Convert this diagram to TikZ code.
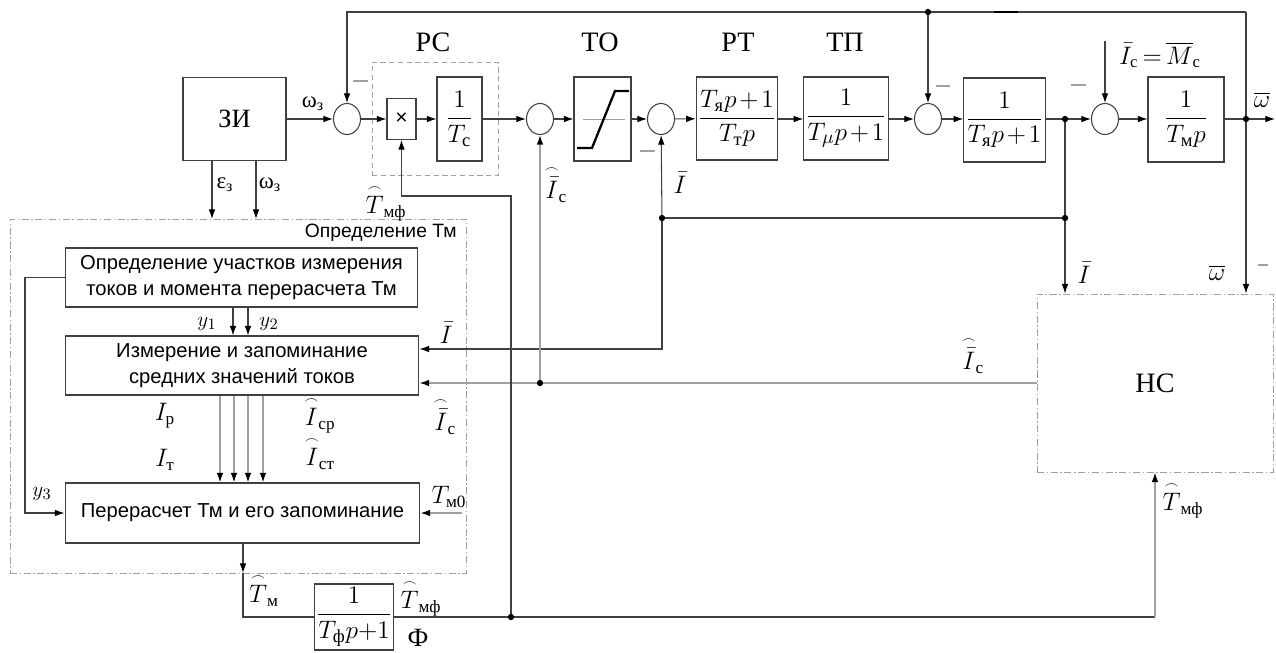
\documentclass[tikz,border=0pt]{standalone}
\usepackage{amsmath}
\usepackage{fontspec}
\setmainfont{Liberation Serif}
\newfontfamily\arial{Liberation Sans}
\usetikzlibrary{arrows.meta,shapes.geometric}
\newcommand\harc[1]{\overset{\scriptscriptstyle\frown}{#1}}
\newcommand\myfr[2]{\medmuskip=2mu\relax\dfrac{#1}{#2}}
\definecolor{lc}{HTML}{404040}
\definecolor{gc}{HTML}{A0A0A0}
\tikzset{
  ln/.style={draw=lc, line width=0.6pt},
  arr/.style={draw=lc, line width=0.6pt, -{Latex[length=5.5pt,width=3.8pt,color=black]}},
  garr/.style={draw=gc, line width=0.8pt, -{Latex[length=5.5pt,width=3.8pt,color=black]}},
  box/.style={draw=lc, line width=0.6pt, rectangle, inner sep=1pt},
  sum/.style={draw=lc, line width=0.6pt, ellipse, minimum width=0.54cm, minimum height=0.62cm, inner sep=0pt},
  ttl/.style={font=\fontsize{16}{18}\selectfont},
  frac/.style={font=\fontsize{15}{17}\selectfont},
  blk/.style={box, font=\arial\fontsize{11.5}{15}\selectfont, align=center},
  minus/.style={draw=gc, line width=0.8pt},
  dashbox/.style={draw=gc, line width=0.5pt, dash pattern=on 3pt off 2pt, rectangle, inner sep=0pt},
  dashdot/.style={draw=gc, line width=0.5pt, dash pattern=on 4pt off 1.5pt on 0.8pt off 1.5pt, rectangle, inner sep=0pt},
  lbl/.style={inner sep=0pt},
}
\begin{document}
\begin{tikzpicture}[x=0.02cm,y=-0.02cm, font=\fontsize{14}{16}\selectfont]
\useasboundingbox (0,0) rectangle (1276,653);

% dashed frames
\node[dashbox, minimum width=2.52cm, minimum height=2.26cm] (pcb) at (435,118.5) {};
\node[dashdot, minimum width=9.12cm, minimum height=7.08cm] (outer) at (238,396) {};
\node[dashdot, minimum width=4.72cm, minimum height=3.56cm, ttl] (nc) at (1155,383) {НС};

% main chain
\node[box, minimum width=2.06cm, minimum height=1.66cm, font=\fontsize{15}{17}\selectfont] (zi) at (234.5,119) {ЗИ};
\node[sum] (s1) at (347,119) {};
\node[box, minimum width=0.58cm, minimum height=0.82cm, font=\arial\fontsize{12}{14}\selectfont] (mul) at (401.5,119) {×};
\node[box, frac, minimum width=0.9cm, minimum height=1.68cm] (tc) at (459.5,119) {$\myfr{1}{T_{\text{с}}}$};
\node[sum] (s2) at (540,119) {};
\node[box, minimum width=1.14cm, minimum height=1.68cm] (to) at (602.5,119) {};
\node[sum] (s3) at (661,119) {};
\node[box, frac, minimum width=1.52cm, minimum height=1.66cm] (rt) at (737,118.5) {$\myfr{T_{\text{я}}p+1}{T_{\text{т}}p}$};
\node[box, frac, minimum width=1.52cm, minimum height=1.66cm] (tp) at (846,118.5) {$\myfr{1}{T_{\mu}p+1}$};
\node[sum] (s4) at (928,119) {};
\node[box, frac, minimum width=1.50cm, minimum height=1.68cm] (ya) at (1004.5,120) {$\myfr{1}{T_{\text{я}}p+1}$};
\node[sum] (s5) at (1105,119) {};
\node[box, frac, minimum width=1.52cm, minimum height=1.70cm] (tm) at (1186,119.5) {$\myfr{1}{T_{\text{м}}p}$};

% saturation inside TO
\draw[draw=gc, line width=0.5pt] (583,119) -- (625,119);
\draw[line width=1.3pt] (577,148) -- (592,148) -- (615,91) -- (629,91);

% block titles
\node[lbl, ttl] (tpc) at (433,42) {РС};
\node[lbl, ttl] (tto) at (600,42) {ТО};
\node[lbl, ttl] (trt) at (738,42) {РТ};
\node[lbl, ttl] (ttp) at (845,42) {ТП};

% left blocks
\node[blk, minimum width=7.06cm, minimum height=1.18cm] (b1) at (241.5,277.5) {Определение участков измерения\\токов и момента перерасчета Тм};
\node[blk, minimum width=7.08cm, minimum height=1.18cm] (b2) at (242,365.5) {Измерение и запоминание\\средних значений токов};
\node[blk, minimum width=7.10cm, minimum height=1.20cm] (b3) at (242.5,513) {Перерасчет Тм и его запоминание};
\node[box, frac, minimum width=1.52cm, minimum height=1.32cm] (f) at (354,617) {$\myfr{1}{T_{\text{ф}}p{+}1}$};
\node[lbl, anchor=east, font=\arial\fontsize{11}{13}\selectfont] (tdef) at (457,233) {Определение Тм};

% coordinates
\coordinate (j1) at (1065,119);
\coordinate (j2) at (1246,119);
\coordinate (out) at (1275,119);
\coordinate (tr) at (1246,12);
\coordinate (jt) at (928,12);
\coordinate (ic) at (1105,41);
\coordinate (jI) at (1065,218);
\coordinate (jI2) at (662,218);
\coordinate (c1) at (662,349);
\coordinate (jc) at (540,383);
\coordinate (jt2) at (511,617);
\coordinate (c2) at (511,196);
\coordinate (cb) at (1155,617);
\coordinate (e1) at (212,219);
\coordinate (e2) at (256,219);
\coordinate (c3) at (25,277.5);
\coordinate (c4) at (462,513);
\coordinate (c5) at (243,573);
\coordinate (c6) at (243,617);

% main chain connectors
\draw[arr] (zi) -- (s1);
\draw[arr] (s1) -- (mul);
\draw[arr] (mul) -- (tc);
\draw[arr] (tc) -- (s2);
\draw[arr] (s2) -- (to);
\draw[arr] (to) -- (s3);
\draw[arr] (s3) -- (rt);
\draw[arr] (rt.east |- s3) -- (tp.west |- s3);
\draw[arr] (tp.east |- s4) -- (s4);
\draw[arr] (s4) -- (ya.west |- s4);
\draw[ln] (ya.east |- j1) -- (j1);
\draw[arr] (j1) -- (s5);
\draw[arr] (s5) -- (tm.west |- s5);
\draw[arr] (tm.east |- out) -- (out);

% feedbacks
\draw[arr] (tr) -| (s1);
\draw[arr] (tr) -- (tr |- nc.north);
\draw[arr] (jt) -- (s4);
\draw[arr] (ic) -- (s5);
\draw[arr] (j1) -- (j1 |- nc.north);
\draw[ln] (jI) -- (jI2);
\draw[arr] (jI2) -- (s3);
\draw[arr] (jI2) -- (c1) -- (c1 -| b2.east);
\draw[garr] (nc.west) -- (jc -| b2.east);
\draw[garr] (jc) -- (s2);
\draw[ln] (f.east) -- (cb);
\draw[garr] (cb) -- (nc.south);
\draw[arr] (jt2) -- (c2) -| (mul.south);

% left part
\draw[arr] (e1 |- zi.south) -- (e1);
\draw[arr] (e2 |- zi.south) -- (e2);
\foreach \x in {233,248} \draw[arr] (b1.south -| \x,0) -- (b2.north -| \x,0);
\draw[arr] (b1.west) -- (c3) |- (b3.west);
\foreach \x in {220,234,248,263} \draw[garr] (b2.south -| \x,0) -- (b3.north -| \x,0);
\draw[garr] (c4) -- (b3.east);
\draw[arr] (b3.south -| c5) -- (c5);
\draw[ln] (c5) -- (c6) -- (f.west);

% dots
\foreach \p in {jt,j1,j2,jI,jI2,jc,jt2} \fill (\p) circle[radius=1.8pt];

% minus signs
\draw[minus] (353,81) -- (368,81);
\draw[minus] (640,151) -- (655,151);
\draw[minus] (936,86) -- (950,86);
\draw[minus] (1071,85) -- (1086,85);
\draw[minus] (1258,265) -- (1268,265);
\draw[line width=1.3pt] (994,12) -- (1018,12);

% labels
\node[lbl, font=\fontsize{13}{15}\selectfont] (lw1) at (313,104) {$\text{ω}_{\text{з}}$};
\node[lbl, font=\fontsize{13}{15}\selectfont] (le) at (225,185) {$\text{ε}_{\text{з}}$};
\node[lbl, font=\fontsize{13}{15}\selectfont] (lw2) at (270,185) {$\text{ω}_{\text{з}}$};
\node[lbl] (ltmf1) at (386,203) {$\harc{T}_{\text{мф}}$};
\node[lbl] (lic1) at (556,184) {$\harc{\bar{I}}_{\text{с}}$};
\node[lbl] (li1) at (680,183) {$\bar{I}$};
\node[lbl, font=\fontsize{13.5}{15}\selectfont] (lic2) at (1160,55) {$\bar{I}_{\text{с}}\mskip3mu{=}\mskip3mu\overline{M}_{\text{с}}$};
\node[lbl] (lw3) at (1262,100) {$\overline{\omega}$};
\node[lbl] (li2) at (1084,273) {$\bar{I}$};
\node[lbl] (lw4) at (1217,273) {$\overline{\omega}$};
\node[lbl] (lic3) at (973,355) {$\harc{\bar{I}}_{\text{с}}$};
\node[lbl] (ltmf2) at (1183,500) {$\harc{T}_{\text{мф}}$};
\node[lbl, font=\fontsize{13}{15}\selectfont] (ly1) at (207,324) {$y_1$};
\node[lbl, font=\fontsize{13}{15}\selectfont] (ly2) at (269,324) {$y_2$};
\node[lbl] (li3) at (446,333) {$\bar{I}$};
\node[lbl] (lic4) at (445,416) {$\harc{\bar{I}}_{\text{с}}$};
\node[lbl] (lip) at (165,416) {$I_{\text{р}}$};
\node[lbl] (lit) at (165,460) {$I_{\text{т}}$};
\node[lbl] (licp) at (320,415) {$\harc{I}_{\text{ср}}$};
\node[lbl] (lict) at (320,453) {$\harc{I}_{\text{ст}}$};
\node[lbl, font=\fontsize{13}{15}\selectfont] (ly3) at (42,494) {$y_3$};
\node[lbl] (ltm0) at (449,497) {$T_{\text{м0}}$};
\node[lbl] (ltm) at (264,590) {$\harc{T}_{\text{м}}$};
\node[lbl] (ltmf3) at (421,598) {$\harc{T}_{\text{мф}}$};
\node[lbl, font=\fontsize{15}{17}\selectfont] (lf) at (418,638) {Ф};
\end{tikzpicture}
\end{document}
